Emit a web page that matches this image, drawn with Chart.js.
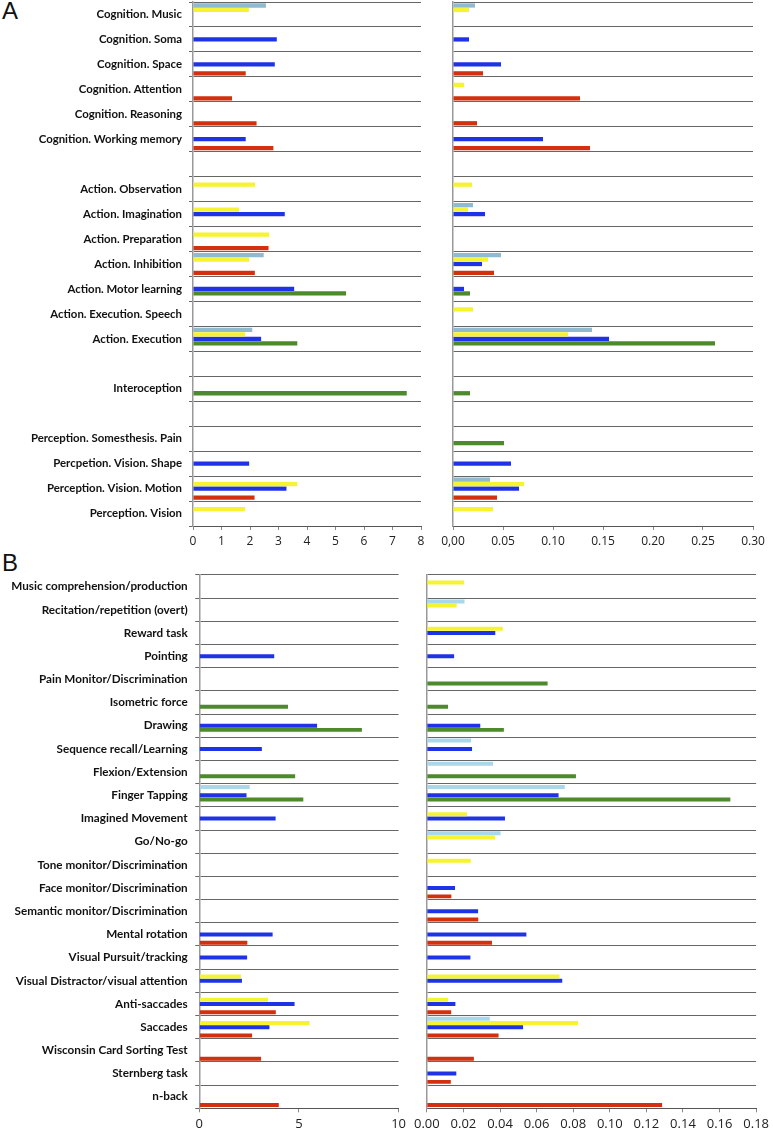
<!DOCTYPE html>
<html>
<head>
<meta charset="utf-8">
<script src="https://cdn.jsdelivr.net/npm/chart.js@4.4.1/dist/chart.umd.min.js"></script>
<style>
  body { margin: 0; background: #fff; width: 773px; height: 1133px; position: relative; overflow: hidden; }
  canvas { position: absolute; }
  .tag { position: absolute; font: 24px "Liberation Sans", sans-serif; color: #111; }
</style>
</head>
<body>
<div class="tag" style="left:2px;top:-3px">A</div>
<div class="tag" style="left:2px;top:549px">B</div>
<canvas id="aLeft" width="430" height="562" style="left:0;top:-12px"></canvas>
<canvas id="aRight" width="343" height="550" style="left:430px;top:0"></canvas>
<canvas id="bLeft" width="410" height="573" style="left:0;top:560px"></canvas>
<canvas id="bRight" width="363" height="573" style="left:410px;top:560px"></canvas>
<script>
// ---- panel A ----
var catsA = ['Cognition. Music', 'Cognition. Soma', 'Cognition. Space', 'Cognition. Attention',
  'Cognition. Reasoning', 'Cognition. Working memory', '', 'Action. Observation',
  'Action. Imagination', 'Action. Preparation', 'Action. Inhibition', 'Action. Motor learning',
  'Action. Execution. Speech', 'Action. Execution', '', 'Interoception', '',
  'Perception. Somesthesis. Pain', 'Percpetion. Vision. Shape', 'Perception. Vision. Motion',
  'Perception. Vision'];
var n = null;
var aLeftLightBlue = [2.56, n, n, n, n, n, n, n, n, n, 2.48, n, n, 2.08, n, n, n, n, n, n, n];
var aLeftYellow    = [1.96, n, n, n, n, n, n, 2.18, 1.62, 2.67, 1.97, n, n, 1.83, n, n, n, n, n, 3.66, 1.83];
var aLeftBlue      = [n, 2.94, 2.87, n, n, 1.85, n, n, 3.22, n, n, 3.55, n, 2.39, n, n, n, n, 1.97, 3.28, n];
var aLeftGreen     = [n, n, n, n, n, n, n, n, n, n, n, 5.37, n, 3.66, n, 7.5, n, n, n, n, n];
var aLeftRed       = [n, n, 1.85, 1.37, 2.23, 2.82, n, n, n, 2.65, 2.17, n, n, n, n, n, n, n, n, 2.16, n];

var aRightLightBlue = [0.022, n, n, n, n, n, n, n, 0.020, n, 0.048, n, n, 0.139, n, n, n, n, n, 0.037, n];
var aRightYellow    = [0.016, n, n, 0.011, n, n, n, 0.019, 0.015, n, 0.035, n, 0.020, 0.115, n, n, n, n, n, 0.071, 0.040];
var aRightBlue      = [n, 0.016, 0.048, n, n, 0.090, n, n, 0.032, n, 0.029, 0.011, n, 0.156, n, n, n, n, 0.058, 0.066, n];
var aRightGreen     = [n, n, n, n, n, n, n, n, n, n, n, 0.017, n, 0.262, n, 0.017, n, 0.051, n, n, n];
var aRightRed       = [n, n, 0.030, 0.127, 0.024, 0.137, n, n, n, n, 0.041, n, n, n, n, n, n, n, n, 0.044, n];

// ---- panel B ----
var catsB = ['Music comprehension/production', 'Recitation/repetition (overt)', 'Reward task',
  'Pointing', 'Pain Monitor/Discrimination', 'Isometric force', 'Drawing',
  'Sequence recall/Learning', 'Flexion/Extension', 'Finger Tapping', 'Imagined Movement',
  'Go/No-go', 'Tone monitor/Discrimination', 'Face monitor/Discrimination',
  'Semantic monitor/Discrimination', 'Mental rotation', 'Visual Pursuit/tracking',
  'Visual Distractor/visual attention', 'Anti-saccades', 'Saccades',
  'Wisconsin Card Sorting Test', 'Sternberg task', 'n-back'];
var bLeftLightBlue = [n, n, n, n, n, n, n, n, n, 2.53, n, n, n, n, n, n, n, n, n, n, n, n, n];
var bLeftYellow    = [n, n, n, n, n, n, n, n, n, n, n, n, n, n, n, n, n, 2.09, 3.45, 5.54, n, n, n];
var bLeftBlue      = [n, n, n, 3.76, n, n, 5.91, 3.14, n, 2.37, 3.83, n, n, n, n, 3.68, 2.40, 2.14, 4.78, 3.52, n, n, n];
var bLeftGreen     = [n, n, n, n, n, 4.45, 8.16, n, 4.81, 5.22, n, n, n, n, n, n, n, n, n, n, n, n, n];
var bLeftRed       = [n, n, n, n, n, n, n, n, n, n, n, n, n, n, n, 2.41, n, n, 3.84, 2.65, 3.10, n, 3.99];

var bRightLightBlue = [n, 0.0206, n, n, n, n, n, 0.0242, 0.0362, 0.0754, n, 0.0403, n, n, n, n, n, n, n, 0.0344, n, n, n];
var bRightYellow    = [0.0203, 0.0163, 0.0415, n, n, n, n, n, n, n, 0.0219, 0.0373, 0.0240, n, n, n, n, 0.0725, 0.0116, 0.0826, n, n, n];
var bRightBlue      = [n, n, 0.0374, 0.0149, n, n, 0.0292, 0.0247, n, 0.072, 0.0427, n, n, 0.0154, 0.0280, 0.0544, 0.0238, 0.074, 0.0156, 0.0526, n, 0.0161, n];
var bRightGreen     = [n, n, n, n, 0.066, 0.0116, 0.0421, n, 0.0815, 0.1659, n, n, n, n, n, n, n, n, n, n, n, n, n];
var bRightRed       = [n, n, n, n, n, n, n, n, n, n, n, n, n, 0.0134, 0.0281, 0.0356, n, n, 0.0133, 0.0392, 0.0257, 0.0131, 0.1286];

var ticksA = { max: 8, step: 1 };
var ticksA2 = { max: 0.30, step: 0.05 };
var ticksB = { max: 10, step: 5 };
var ticksB2 = { max: 0.18, step: 0.02 };

var COLORS = {
  lightA: '#8fbad0', lightB: '#a9d8ea', yellow: '#f6f332', blue: '#1f33e6', green: '#4c8a2c', red: '#d3300d'
};

function sets(light, lb, y, b, g, r) {
  return [
    { data: lb, backgroundColor: light },
    { data: y, backgroundColor: COLORS.yellow },
    { data: b, backgroundColor: COLORS.blue },
    { data: g, backgroundColor: COLORS.green },
    { data: r, backgroundColor: COLORS.red }
  ];
}

function plot(id, labels, datasets, t, cfg) {
  new Chart(document.getElementById(id), {
    type: 'bar',
    data: { labels: labels, datasets: datasets },
    options: {
      indexAxis: 'y',
      responsive: false,
      animation: false,
      events: [],
      categoryPercentage: 0.9,
      barPercentage: 0.95,
      layout: { autoPadding: false, padding: { top: cfg.top, right: cfg.right, left: 0, bottom: 0 } },
      plugins: { legend: { display: false }, tooltip: { enabled: false } },
      scales: {
        x: {
          min: 0, max: t.max,
          afterFit: function (s) { s.height = cfg.xh; },
          border: { display: true, color: '#555', width: 1 },
          grid: { drawOnChartArea: false, drawTicks: true, tickLength: 4, color: '#888' },
          ticks: {
            stepSize: t.step, color: '#222', padding: 4, maxRotation: 0,
            font: { family: 'Open Sans', size: cfg.tickSize },
            callback: cfg.fmt
          }
        },
        y: {
          afterFit: function (s) { s.width = cfg.yw; },
          border: { display: true, color: '#999', width: 1.5 },
          grid: { offset: true, color: '#666', lineWidth: 1, tickLength: cfg.labels ? 4 : 0 },
          ticks: {
            display: cfg.labels, autoSkip: false, color: '#111', padding: cfg.labPad,
            font: { family: 'Lato', weight: 'bold', size: cfg.labSize }
          }
        }
      }
    }
  });
}

plot('aLeft', catsA, sets(COLORS.lightA, aLeftLightBlue, aLeftYellow, aLeftBlue, aLeftGreen, aLeftRed), ticksA,
  { top: 14, right: 9, xh: 24, yw: 193, labels: true, labPad: 7, labSize: 11.4, tickSize: 12, fmt: function (v) { return v; } });
plot('aRight', catsA, sets(COLORS.lightA, aRightLightBlue, aRightYellow, aRightBlue, aRightGreen, aRightRed), ticksA2,
  { top: 2, right: 20, xh: 24, yw: 23, labels: false, labPad: 0, labSize: 12, tickSize: 12,
    fmt: function (v) { return v === 0 ? '0,00' : v.toFixed(2); } });
plot('bLeft', catsB, sets(COLORS.lightB, bLeftLightBlue, bLeftYellow, bLeftBlue, bLeftGreen, bLeftRed), ticksB,
  { top: 15, right: 7.7, xh: 24.7, yw: 199.3, labels: true, labPad: 7.6, labSize: 11.7, tickSize: 13, fmt: function (v) { return v; } });
plot('bRight', catsB, sets(COLORS.lightB, bRightLightBlue, bRightYellow, bRightBlue, bRightGreen, bRightRed), ticksB2,
  { top: 15, right: 12, xh: 24.7, yw: 16, labels: false, labPad: 0, labSize: 12, tickSize: 13,
    fmt: function (v) { return v.toFixed(2); } });
</script>
</body>
</html>
